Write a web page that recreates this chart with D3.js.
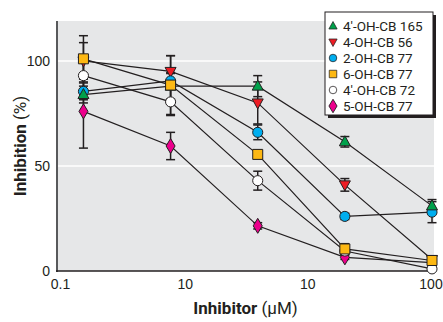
<!DOCTYPE html>
<html>
<head>
<meta charset="utf-8">
<script src="https://cdn.jsdelivr.net/npm/d3@7"></script>
<style>
  body { margin: 0; background: #fff; }
  svg { display: block; font-family: Roboto, "Liberation Sans", sans-serif; }
</style>
</head>
<body>
<div class="my-graph"></div>
<script>
// concentrations (uM), 5-fold dilution series
const conc = [0.16, 0.8, 4, 20, 100]

const seriesNames = ["4\u2032-OH-CB 165", "4-OH-CB 56", "2-OH-CB 77", "6-OH-CB 77", "4\u2032-OH-CB 72", "5-OH-CB 77"]

const cb165 = [84, 88, 88, 61.5, 31]
const cb165Err = [4, 6, 5, 2.5, 3]
const cb56 = [100, 95, 80, 41, 5.5]
const cb56Err = [8.7, 7.5, 10, 3, 1]
const oh2cb77 = [85.5, 90.5, 66, 26, 28]
const oh2cb77Err = [4, 4, 3.5, 1.5, 5]
const oh6cb77 = [101, 88.5, 55.5, 10.5, 5]
const oh6cb77Err = [11, 14, 2, 2.5, 1]
const cb72 = [93, 80.5, 43, 9.5, 1]
const cb72Err = [7, 6.5, 4.5, 1.5, 0.5]
const oh5cb77 = [76, 59.5, 21.5, 6.5, 4]
const oh5cb77Err = [17.5, 6.5, 1.5, 1, 1]

const yTicks = [0, 50, 100]
const xTicks = [0.1, 1, 10, 100]
const xTickLabels = ["0.1", "10", "10", "100"]

const styles = [
  { shape: 'triUp', fill: '#00a14b' },
  { shape: 'triDown', fill: '#ed1c24' },
  { shape: 'circle', fill: '#00aeef' },
  { shape: 'square', fill: '#fdb813' },
  { shape: 'circle', fill: '#ffffff' },
  { shape: 'diamond', fill: '#ec008c' }
]
const values = [cb165, cb56, oh2cb77, oh6cb77, cb72, oh5cb77]
const errs = [cb165Err, cb56Err, oh2cb77Err, oh6cb77Err, cb72Err, oh5cb77Err]

const series = seriesNames.map((name, i) => ({
  name, ...styles[i],
  points: conc.map((c, j) => ({ x: c, y: values[i][j], e: errs[i][j] }))
}))

const width = 443
const height = 322
const margin = { top: 21, bottom: 51, left: 57, right: 9 }

const xScale = d3.scaleLog()
  .domain([0.1, 100])
  .range([58, 432])

const yScale = d3.scaleLinear()
  .domain([0, 119])
  .range([height - margin.bottom, margin.top])

const svg = d3.select('.my-graph')
  .append('svg')
  .attr('width', width)
  .attr('height', height)

// plot background
svg.append('rect')
  .attr('x', margin.left)
  .attr('y', margin.top)
  .attr('width', width - margin.left - margin.right)
  .attr('height', height - margin.top - margin.bottom)
  .attr('fill', '#e6e7e8')

// white gridlines
svg.selectAll('.grid')
  .data([50, 100])
  .enter().append('line')
  .attr('x1', margin.left)
  .attr('x2', width - margin.right)
  .attr('y1', d => yScale(d))
  .attr('y2', d => yScale(d))
  .attr('stroke', '#fff')
  .attr('stroke-width', 1.5)

// axes
const yAxis = svg.append('g')
  .attr('transform', `translate(${margin.left}, 0)`)
  .call(d3.axisLeft(yScale).tickValues(yTicks).tickSize(0).tickPadding(7))
yAxis.select('.domain').remove()
yAxis.selectAll('text').attr('font-size', 14).attr('fill', '#231f20').attr('font-family', null)

const xAxis = svg.append('g')
  .attr('transform', `translate(0, ${height - margin.bottom})`)
  .call(d3.axisBottom(xScale).tickValues(xTicks).tickFormat((d, i) => xTickLabels[i]).tickSize(0).tickPadding(8))
xAxis.select('.domain').remove()
xAxis.selectAll('text').attr('font-size', 14).attr('fill', '#231f20').attr('font-family', null)
  .attr('dx', (d, i) => [2, 2, 0, -1.5][i])

svg.append('line')
  .attr('x1', margin.left).attr('x2', margin.left)
  .attr('y1', margin.top).attr('y2', height - margin.bottom + 1)
  .attr('stroke', '#58595b').attr('stroke-width', 2)
svg.append('line')
  .attr('x1', margin.left - 1).attr('x2', width - margin.right)
  .attr('y1', height - margin.bottom).attr('y2', height - margin.bottom)
  .attr('stroke', '#231f20').attr('stroke-width', 1.5)

// axis titles
const yTitle = svg.append('text')
  .attr('transform', `translate(26, ${(margin.top + height - margin.bottom) / 2}) rotate(-90)`)
  .attr('text-anchor', 'middle')
  .attr('font-size', 17)
  .attr('fill', '#231f20')
yTitle.append('tspan').attr('font-weight', 'bold').text('Inhibition ')
yTitle.append('tspan').text('(%)')

const xTitle = svg.append('text')
  .attr('x', (margin.left + width - margin.right) / 2)
  .attr('y', 314)
  .attr('text-anchor', 'middle')
  .attr('font-size', 17)
  .attr('fill', '#231f20')
xTitle.append('tspan').attr('font-weight', 'bold').text('Inhibitor ')
xTitle.append('tspan').text('(\u03bcM)')

// marker paths
const markerPath = (shape) => {
  if (shape === 'triUp') return 'M0,-6L5.5,4L-5.5,4Z'
  if (shape === 'triDown') return 'M0,6L5.5,-4L-5.5,-4Z'
  if (shape === 'square') return 'M-5,-5H5V5H-5Z'
  if (shape === 'diamond') return 'M0,-7.5L4.5,0L0,7.5L-4.5,0Z'
  return d3.symbol(d3.symbolCircle, 80)()
}

const line = d3.line()
  .x(d => xScale(d.x))
  .y(d => yScale(d.y))

// lines
svg.selectAll('.line')
  .data(series)
  .enter().append('path')
  .attr('class', 'line')
  .attr('d', d => line(d.points))
  .attr('fill', 'none')
  .attr('stroke', '#231f20')
  .attr('stroke-width', 1.2)

// error bars
const bars = svg.selectAll('.err')
  .data(series.flatMap(s => s.points))
  .enter().append('g')
  .attr('class', 'err')
  .attr('stroke', '#231f20')
  .attr('stroke-width', 1.5)
bars.append('line')
  .attr('x1', d => xScale(d.x)).attr('x2', d => xScale(d.x))
  .attr('y1', d => yScale(d.y + d.e)).attr('y2', d => yScale(d.y - d.e))
bars.append('line')
  .attr('x1', d => xScale(d.x) - 4.5).attr('x2', d => xScale(d.x) + 4.5)
  .attr('y1', d => yScale(d.y + d.e)).attr('y2', d => yScale(d.y + d.e))
bars.append('line')
  .attr('x1', d => xScale(d.x) - 4.5).attr('x2', d => xScale(d.x) + 4.5)
  .attr('y1', d => yScale(d.y - d.e)).attr('y2', d => yScale(d.y - d.e))

// markers; drawn in this order so overlaps look like the figure
const drawOrder = [5, 4, 1, 2, 0, 3]
drawOrder.forEach(i => {
  const s = series[i]
  svg.selectAll(`.dot${i}`)
    .data(s.points)
    .enter().append('path')
    .attr('class', `dot${i}`)
    .attr('transform', d => `translate(${xScale(d.x)},${yScale(d.y)})`)
    .attr('d', markerPath(s.shape))
    .attr('fill', s.fill)
    .attr('stroke', '#231f20')
    .attr('stroke-width', 1)
})

// legend
const lg = svg.append('g').attr('transform', 'translate(325, 12)')
lg.append('rect')
  .attr('x', 3).attr('y', 3).attr('width', 108).attr('height', 103)
  .attr('fill', '#231f20')
lg.append('rect')
  .attr('width', 108).attr('height', 103)
  .attr('fill', '#fff').attr('stroke', '#231f20').attr('stroke-width', 1)
const rows = lg.selectAll('.row')
  .data(series)
  .enter().append('g')
  .attr('class', 'row')
  .attr('transform', (d, i) => `translate(8, ${14 + i * 16})`)
rows.append('path')
  .attr('d', d => markerPath(d.shape))
  .attr('transform', d => d.shape === 'diamond' ? 'scale(0.9)' : 'scale(0.75)')
  .attr('fill', d => d.fill)
  .attr('stroke', '#231f20')
  .attr('stroke-width', 1)
rows.append('text')
  .attr('x', 10)
  .attr('y', 5)
  .attr('font-size', 13.5)
  .attr('fill', '#231f20')
  .text(d => d.name)
</script>
</body>
</html>
